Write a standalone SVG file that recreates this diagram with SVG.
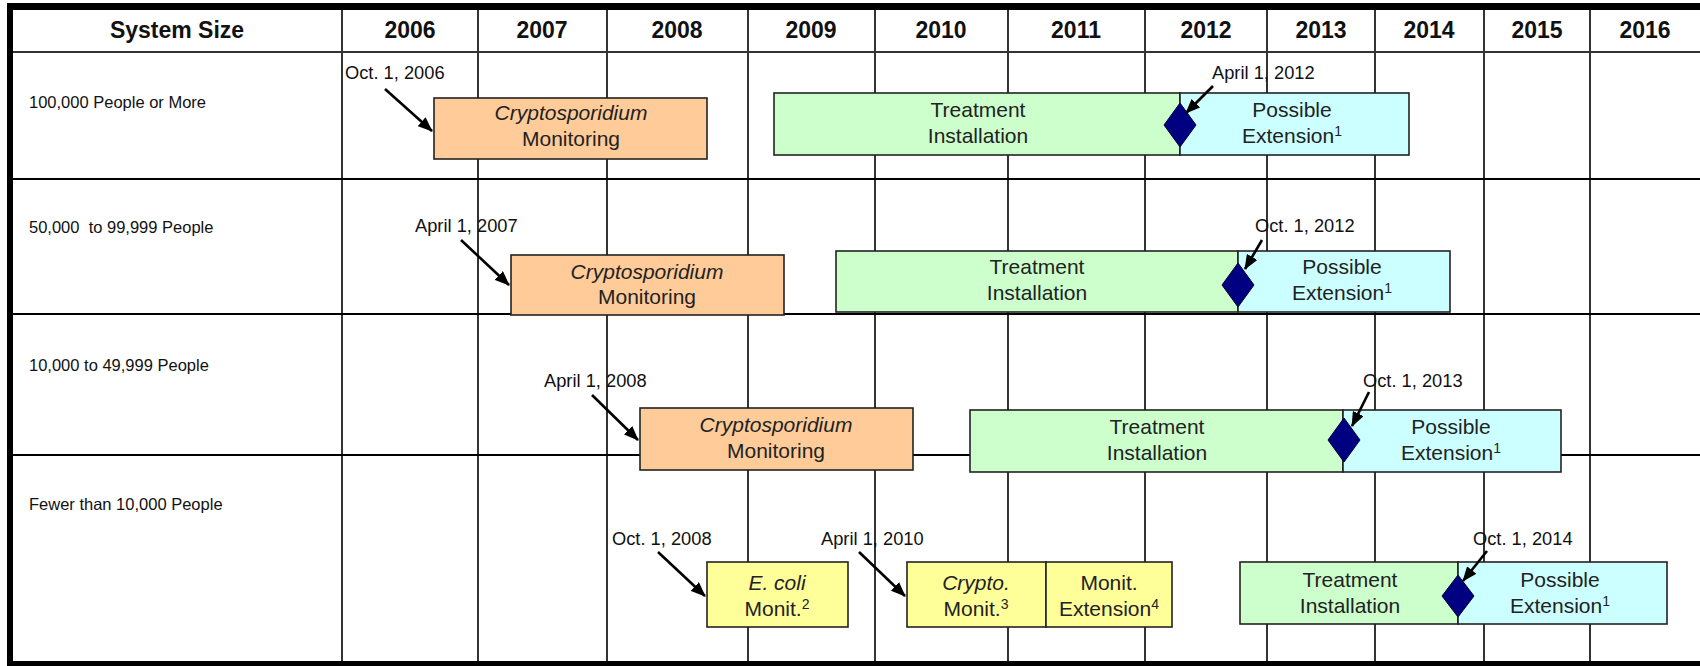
<svg xmlns="http://www.w3.org/2000/svg" width="1700" height="666" viewBox="0 0 1700 666">
<style>
.hdr{font-family:"Liberation Sans",Arial,sans-serif;font-weight:bold;font-size:23px;text-anchor:middle;fill:#111}
.row{font-family:"Liberation Sans",Arial,sans-serif;font-size:16.5px;fill:#111;white-space:pre}
.date{font-family:"Liberation Sans",Arial,sans-serif;font-size:18.3px;fill:#111}
.bt{font-family:"Liberation Sans",Arial,sans-serif;font-size:21px;text-anchor:middle;fill:#222}
.it{font-style:italic}
.sup{font-size:14px}
.grid{stroke:#000;stroke-width:1.6;fill:none}
.box{stroke:#222;stroke-width:1.6}
.or{fill:#FFCC99}.gr{fill:#CCFFCC}.cy{fill:#CCFFFF}.ye{fill:#FFFF99}
.dia{fill:#000080;stroke:#000040;stroke-width:1}
.arr{stroke:#000;stroke-width:2.6;fill:none;marker-end:url(#ah)}
</style>
<defs>
<marker id="ah" markerUnits="userSpaceOnUse" markerWidth="16" markerHeight="12" refX="14" refY="6" orient="auto">
<path d="M0,0 L15,6 L0,12 Z" fill="#000"/>
</marker>
</defs>
<rect x="0" y="0" width="1700" height="666" fill="#fff"/>
<g id="grid">
<g class="grid">
<line x1="342" y1="9" x2="342" y2="663"/>
<line x1="478" y1="9" x2="478" y2="663"/>
<line x1="607" y1="9" x2="607" y2="663"/>
<line x1="748" y1="9" x2="748" y2="663"/>
<line x1="875" y1="9" x2="875" y2="663"/>
<line x1="1008" y1="9" x2="1008" y2="663"/>
<line x1="1145" y1="9" x2="1145" y2="663"/>
<line x1="1267" y1="9" x2="1267" y2="663"/>
<line x1="1375" y1="9" x2="1375" y2="663"/>
<line x1="1484" y1="9" x2="1484" y2="663"/>
<line x1="1590" y1="9" x2="1590" y2="663"/>
<line x1="10" y1="52" x2="1700" y2="52" stroke-width="2.2" stroke="#333"/>
<line x1="10" y1="179" x2="1700" y2="179" stroke-width="2"/>
<line x1="10" y1="314" x2="1700" y2="314" stroke-width="2"/>
<line x1="10" y1="455" x2="1700" y2="455" stroke-width="2"/>
</g>
<rect x="7" y="3" width="1693" height="7" fill="#000"/>
<rect x="7" y="3" width="6" height="663" fill="#000"/>
<rect x="7" y="661" width="1693" height="5" fill="#000"/>
</g>
<g id="header">
<text class="hdr" x="177" y="38">System Size</text>
<text class="hdr" x="410" y="38">2006</text>
<text class="hdr" x="542" y="38">2007</text>
<text class="hdr" x="677" y="38">2008</text>
<text class="hdr" x="811" y="38">2009</text>
<text class="hdr" x="941" y="38">2010</text>
<text class="hdr" x="1076" y="38">2011</text>
<text class="hdr" x="1206" y="38">2012</text>
<text class="hdr" x="1321" y="38">2013</text>
<text class="hdr" x="1429" y="38">2014</text>
<text class="hdr" x="1537" y="38">2015</text>
<text class="hdr" x="1645" y="38">2016</text>
</g>
<g id="row-labels">
<text class="row" x="29" y="108">100,000 People or More</text>
<text class="row" x="29" y="233">50,000  to 99,999 People</text>
<text class="row" x="29" y="371">10,000 to 49,999 People</text>
<text class="row" x="29" y="510">Fewer than 10,000 People</text>
</g>
<g id="row1-crypto">
<rect class="box or" x="434" y="98" width="273" height="61"/>
<text class="bt" x="571" y="120"><tspan class="it">Cryptosporidium</tspan></text>
<text class="bt" x="571" y="146">Monitoring</text>
</g>
<g id="row1-treatment">
<rect class="box gr" x="774" y="93" width="406" height="62"/>
<text class="bt" x="978" y="117">Treatment</text>
<text class="bt" x="978" y="143">Installation</text>
</g>
<g id="row1-extension">
<rect class="box cy" x="1180" y="93" width="229" height="62"/>
<text class="bt" x="1292" y="117">Possible</text>
<text class="bt" x="1292" y="143">Extension<tspan class="sup" dy="-7">1</tspan></text>
</g>
<g id="row1-milestone"><polygon class="dia" points="1180,103 1196,125 1180,147 1164,125"/></g>
<g id="row2-crypto">
<rect class="box or" x="511" y="255" width="273" height="60"/>
<text class="bt" x="647" y="279"><tspan class="it">Cryptosporidium</tspan></text>
<text class="bt" x="647" y="304">Monitoring</text>
</g>
<g id="row2-treatment">
<rect class="box gr" x="836" y="251" width="402" height="61"/>
<text class="bt" x="1037" y="274">Treatment</text>
<text class="bt" x="1037" y="300">Installation</text>
</g>
<g id="row2-extension">
<rect class="box cy" x="1238" y="251" width="212" height="61"/>
<text class="bt" x="1342" y="274">Possible</text>
<text class="bt" x="1342" y="300">Extension<tspan class="sup" dy="-7">1</tspan></text>
</g>
<g id="row2-milestone"><polygon class="dia" points="1238,263 1254,285 1238,307 1222,285"/></g>
<g id="row3-crypto">
<rect class="box or" x="640" y="408" width="273" height="62"/>
<text class="bt" x="776" y="432"><tspan class="it">Cryptosporidium</tspan></text>
<text class="bt" x="776" y="458">Monitoring</text>
</g>
<g id="row3-treatment">
<rect class="box gr" x="970" y="410" width="373" height="62"/>
<text class="bt" x="1157" y="434">Treatment</text>
<text class="bt" x="1157" y="460">Installation</text>
</g>
<g id="row3-extension">
<rect class="box cy" x="1343" y="410" width="218" height="62"/>
<text class="bt" x="1451" y="434">Possible</text>
<text class="bt" x="1451" y="460">Extension<tspan class="sup" dy="-7">1</tspan></text>
</g>
<g id="row3-milestone"><polygon class="dia" points="1344,418 1360,440 1344,462 1328,440"/></g>
<g id="row4-ecoli">
<rect class="box ye" x="707" y="562" width="141" height="65"/>
<text class="bt" x="777" y="590"><tspan class="it">E. coli</tspan></text>
<text class="bt" x="777" y="616">Monit.<tspan class="sup" dy="-7">2</tspan></text>
</g>
<g id="row4-crypto">
<rect class="box ye" x="907" y="562" width="139" height="65"/>
<text class="bt" x="976" y="590"><tspan class="it">Crypto.</tspan></text>
<text class="bt" x="976" y="616">Monit.<tspan class="sup" dy="-7">3</tspan></text>
</g>
<g id="row4-monit-extension">
<rect class="box ye" x="1046" y="562" width="126" height="65"/>
<text class="bt" x="1109" y="590">Monit.</text>
<text class="bt" x="1109" y="616">Extension<tspan class="sup" dy="-7">4</tspan></text>
</g>
<g id="row4-treatment">
<rect class="box gr" x="1240" y="562" width="218" height="62"/>
<text class="bt" x="1350" y="587">Treatment</text>
<text class="bt" x="1350" y="613">Installation</text>
</g>
<g id="row4-extension">
<rect class="box cy" x="1458" y="562" width="209" height="62"/>
<text class="bt" x="1560" y="587">Possible</text>
<text class="bt" x="1560" y="613">Extension<tspan class="sup" dy="-7">1</tspan></text>
</g>
<g id="row4-milestone"><polygon class="dia" points="1458,575 1474,596 1458,617 1442,596"/></g>
<g id="dates">
<text class="date" x="345" y="79">Oct. 1, 2006</text>
<text class="date" x="1212" y="79">April 1, 2012</text>
<text class="date" x="415" y="232">April 1, 2007</text>
<text class="date" x="1255" y="232">Oct. 1, 2012</text>
<text class="date" x="544" y="387">April 1, 2008</text>
<text class="date" x="1363" y="387">Oct. 1, 2013</text>
<text class="date" x="612" y="545">Oct. 1, 2008</text>
<text class="date" x="821" y="545">April 1, 2010</text>
<text class="date" x="1473" y="545">Oct. 1, 2014</text>
</g>
<g id="connectors">
<line class="arr" x1="385" y1="89" x2="432" y2="131"/>
<line class="arr" x1="1213" y1="86" x2="1186" y2="113"/>
<line class="arr" x1="461" y1="240" x2="509" y2="285"/>
<line class="arr" x1="1262" y1="240" x2="1245" y2="269"/>
<line class="arr" x1="592" y1="395" x2="638" y2="440"/>
<line class="arr" x1="1369" y1="392" x2="1352" y2="426"/>
<line class="arr" x1="658" y1="552" x2="705" y2="596"/>
<line class="arr" x1="859" y1="552" x2="905" y2="596"/>
<line class="arr" x1="1487" y1="551" x2="1463" y2="581"/>
</g>
</svg>
